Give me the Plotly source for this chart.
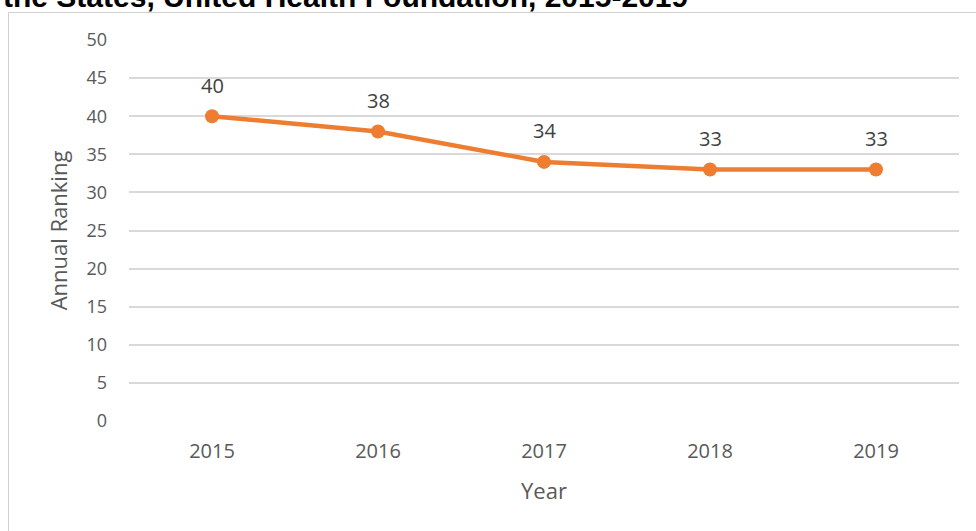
import plotly.graph_objects as go

years = ["2015", "2016", "2017", "2018", "2019"]
ranking = [40, 38, 34, 33, 33]
y_ticks = [0, 5, 10, 15, 20, 25, 30, 35, 40, 45, 50]
title_text = "the States, United Health Foundation, 2015-2019"

W, H = 976, 531
L, R, T, B = 129, 17, 40, 110
pw, ph = W - L - R, H - T - B

def px_x(x):
    return (x - L) / pw

def px_y(y):
    return (H - B - y) / ph

ORANGE = "#ED7D31"
TXT = "#595959"
GRID = "#D9D9D9"
FONT = "Open Sans"

fig = go.Figure()
fig.add_trace(go.Scatter(
    x=years, y=ranking, mode="lines+markers",
    line=dict(color=ORANGE, width=4.5),
    marker=dict(color=ORANGE, size=14),
    hoverinfo="skip", showlegend=False,
))

for i, v in enumerate(ranking):
    fig.add_annotation(x=i, y=v, text=str(v), showarrow=False,
                       yshift=31, font=dict(family=FONT, size=20, color="#404040"))

fig.add_annotation(xref="paper", yref="paper", x=px_x(1), y=px_y(8),
                   xanchor="left", yanchor="bottom", text="<b>" + title_text + "</b>",
                   showarrow=False, yshift=-7,
                   font=dict(family="Liberation Sans", size=30, color="#000000"))

# chart border (left and top edges)
fig.add_shape(type="line", xref="paper", yref="paper", layer="above",
              x0=px_x(8.5), x1=px_x(8.5), y0=px_y(540), y1=px_y(12.5),
              line=dict(color="#D0D0D0", width=1))
fig.add_shape(type="line", xref="paper", yref="paper", layer="above",
              x0=px_x(8.5), x1=px_x(990), y0=px_y(12.5), y1=px_y(12.5),
              line=dict(color="#D0D0D0", width=1))

fig.update_layout(
    width=W, height=H,
    margin=dict(l=L, r=R, t=T, b=B),
    paper_bgcolor="white", plot_bgcolor="white",
    font=dict(family=FONT, size=18, color=TXT),
    xaxis=dict(type="category", range=[-0.5, 4.5], showgrid=False, zeroline=False,
               showline=False, ticks="", ticklabelstandoff=16,
               title=dict(text="Year", font=dict(size=22, color=TXT), standoff=20),
               tickfont=dict(size=20, color=TXT)),
    yaxis=dict(range=[0, 50], tickvals=y_ticks, showgrid=True, gridcolor=GRID,
               gridwidth=1.5, zeroline=False, showline=False, ticks="",
               ticklabelstandoff=21,
               title=dict(text="Annual Ranking", font=dict(size=22, color=TXT), standoff=12),
               tickfont=dict(size=18, color=TXT)),
)

fig.write_html("out.html", config={"displayModeBar": False},
               post_script="document.body.style.margin='0';")
